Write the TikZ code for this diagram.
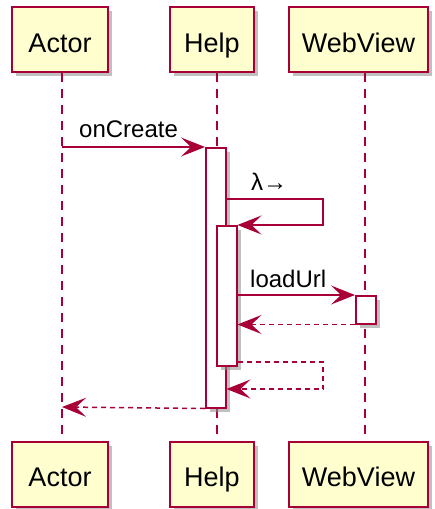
\documentclass[tikz,border=0pt]{standalone}
\usepackage{fontspec}
\setmainfont{Liberation Sans}
\usetikzlibrary{arrows.meta,calc,positioning,shadows}
\definecolor{uml_red}{HTML}{A80036}
\definecolor{uml_fill}{HTML}{FEFECE}
\tikzset{
  umlshadow/.style = {drop shadow={shadow xshift=4pt, shadow yshift=-4pt, fill=black!45, opacity=.55}},
  part/.style = {draw=uml_red, fill=uml_fill, line width=2pt, inner sep=0pt, minimum height=65pt,
  text height=25pt, text depth=0pt, text=black, font=\fontsize{27}{30}\selectfont, umlshadow},
  act/.style = {draw=uml_red, fill=white, line width=1.5pt, inner sep=0pt, anchor=north west, umlshadow},
  msg_text/.style = {inner sep=0pt, anchor=base west, text=black, font=\fontsize{24}{26}\selectfont}
}

\begin{document}
\begin{tikzpicture}[x=1pt,y=-1pt,>={Stealth[length=24pt,width=19pt,inset=10pt]},
        msg/.style={->, uml_red, line width=1.5pt},
        ret/.style={msg, dash pattern=on 5pt off 4pt},
        lifeline/.style={uml_red, line width=1.5pt, dash pattern=on 9pt off 7pt}]
    \useasboundingbox (0,0) rectangle (434,509);
    \node [part, minimum width=96pt] (actor_top) at (60,39.5) {Actor};
    \node [part, minimum width=84pt] (help_top) at (212,39.5) {Help};
    \node [part, minimum width=139pt] (web_top) at (358.5,39.5) {WebView};
    \node [part, minimum width=96pt] (actor_bot) at (60,474) {Actor};
    \node [part, minimum width=84pt] (help_bot) at (212,474) {Help};
    \node [part, minimum width=139pt] (web_bot) at (358.5,474) {WebView};
    \draw [lifeline] ($(actor_top.south)+(2,0)$) -- ($(actor_bot.north)+(2,0)$);
    \draw [lifeline] ($(help_top.south)+(5,0)$) -- ($(help_bot.north)+(5,0)$);
    \draw [lifeline] ($(web_top.south)+(6.5,0)$) -- ($(web_bot.north)+(6.5,0)$);
    \node [act, minimum width=20pt, minimum height=260pt] (act_help1) at (205,147) {};
    \node [act, minimum width=20pt, minimum height=140pt] (act_help2) at (216,225) {};
    \node [act, minimum width=20pt, minimum height=28pt] (act_web) at (355,295) {};
    \coordinate (actor_start) at (62,147);
    \coordinate (actor_end) at (62,407);
    \coordinate (lam_a) at (323,199);
    \coordinate (lam_b) at (323,225);
    \coordinate (back_a) at (323,362);
    \coordinate (back_b) at (323,389);
    \draw [msg] (actor_start) -- (act_help1.north west);
    \node [msg_text] (on_create) at (79,137) {onCreate};
    \draw [msg] (act_help1.east |- lam_a) -- (lam_a) -- (lam_b) -- (act_help2.north east);
    \node [msg_text] (lambda) at (251,190) {λ→};
    \draw [msg] (act_help2.east |- act_web.north) -- (act_web.north west);
    \node [msg_text] (load_url) at (250,287) {loadUrl};
    \draw [ret] (act_web.south west) -- (act_help2.east |- act_web.south);
    \draw [ret] (act_help2.east |- back_a) -- (back_a) -- (back_b) -- (act_help1.east |- back_b);
    \draw [ret] (act_help1.south west) -- (actor_end);
\end{tikzpicture}
\end{document}
